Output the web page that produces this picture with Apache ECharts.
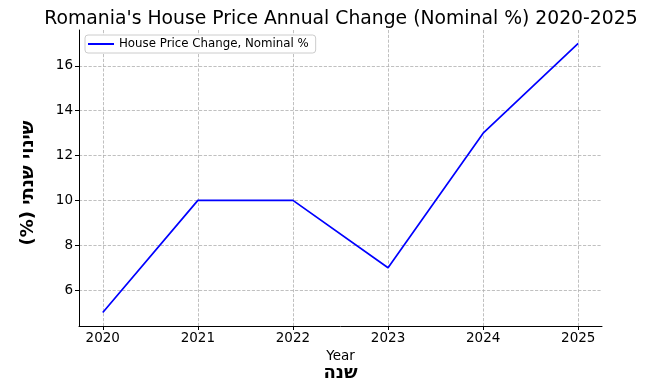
<!DOCTYPE html>
<html>
<head>
<meta charset="utf-8">
<script src="https://cdn.jsdelivr.net/npm/echarts@6/dist/echarts.min.js"></script>
<style>html,body{margin:0;padding:0;background:#fff}#c{width:649px;height:379px}</style>
</head>
<body>
<div id="c"></div>
<script>
const years = [2020, 2021, 2022, 2023, 2024, 2025];
const changeValues = [5, 10, 10, 7, 13, 17];
const xTicks = [2020, 2021, 2022, 2023, 2024, 2025];
const yTicks = [6, 8, 10, 12, 14, 16];
const seriesName = 'House Price Change, Nominal %';

const F = 'DejaVu Sans';
const chart = echarts.init(document.getElementById('c'), null, {renderer: 'canvas'});
chart.setOption({
  animation: false,
  backgroundColor: '#fff',
  title: {
    text: "Romania's House Price Annual Change (Nominal %) 2020-2025",
    left: 336, top: 5, textAlign: 'center',
    textStyle: {fontFamily: F, fontSize: 18.8, fontWeight: 'normal', color: '#000'}
  },
  legend: {
    left: 85, top: 35, padding: [3, 7, 3, 3],
    backgroundColor: '#fff', borderColor: '#cccccc', borderWidth: 1, borderRadius: 3,
    icon: 'rect', itemWidth: 26, itemHeight: 2, itemGap: 8,
    textStyle: {fontFamily: F, fontSize: 11.8, color: '#000'},
    data: [seriesName]
  },
  grid: {left: 79, right: 47, top: 30, bottom: 53, outerBoundsMode: 'none', containLabel: false},
  xAxis: {
    type: 'value', min: 2019.75, max: 2025.25,
    name: '{a|Year}\n{b|שנה}', nameLocation: 'middle', nameGap: 13,
    nameTextStyle: {
      rich: {
        a: {fontFamily: F, fontSize: 13.5, color: '#000', lineHeight: 15},
        b: {fontFamily: F, fontSize: 18, fontWeight: 'bold', color: '#000', lineHeight: 17}
      }
    },
    axisLine: {show: true, onZero: false, lineStyle: {color: '#000', width: 1}},
    axisTick: {show: true, inside: false, length: 4, customValues: xTicks, lineStyle: {color: '#000'}},
    axisLabel: {customValues: xTicks, formatter: v => String(v), fontFamily: F, fontSize: 13.5, color: '#000', margin: 5},
    splitLine: {show: true, lineStyle: {type: 'dashed', color: '#b0b0b0', width: 0.8}}
  },
  yAxis: {
    type: 'value', min: 4.4, max: 17.6,
    name: 'שינוי שנתי (%)\u200F', nameLocation: 'middle', nameRotate: 90, nameGap: 42,
    nameTextStyle: {fontFamily: F, fontSize: 18, fontWeight: 'bold', color: '#000', padding: [0, 10, 0, 0]},
    axisLine: {show: true, onZero: false, lineStyle: {color: '#000', width: 1}},
    axisTick: {show: true, inside: false, length: 4, customValues: yTicks, lineStyle: {color: '#000'}},
    axisLabel: {customValues: yTicks, fontFamily: F, fontSize: 13.5, color: '#000', margin: 6},
    splitLine: {show: true, lineStyle: {type: 'dashed', color: '#b0b0b0', width: 0.8}}
  },
  series: [{
    name: seriesName, type: 'line',
    data: years.map((y, i) => [y, changeValues[i]]),
    showSymbol: false, symbol: 'none',
    lineStyle: {color: '#0000ff', width: 1.7},
    itemStyle: {color: '#0000ff'}
  }]
});
</script>
</body>
</html>
